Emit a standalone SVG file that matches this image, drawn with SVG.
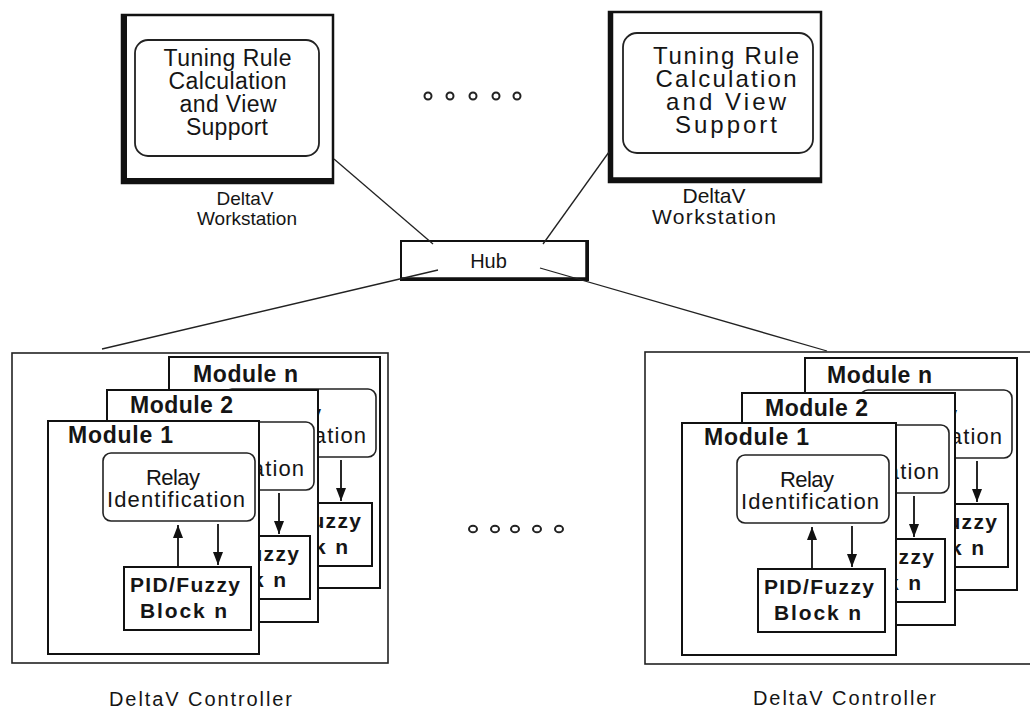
<svg xmlns="http://www.w3.org/2000/svg" width="1030" height="710" viewBox="0 0 1030 710">
<defs>
<style>
.t{font-family:"Liberation Sans",Arial,sans-serif;fill:#151515}
.b{font-weight:bold}
.ws{fill:#fff;stroke:#111;stroke-width:2.5}
.thick{fill:none;stroke:#111}
.inner{fill:#fff;stroke:#222;stroke-width:1.8}
.outer{fill:#fff;stroke:#222;stroke-width:1.6}
.frame{fill:#fff;stroke:#111;stroke-width:2}
.rbox{fill:#fff;stroke:#222;stroke-width:1.6}
.pbox{fill:#fff;stroke:#111;stroke-width:2}
.arr{stroke:#111;stroke-width:1.8;fill:none;marker-end:url(#ah)}
.conn{stroke:#222;stroke-width:1.3;fill:none}
.dot{fill:none;stroke:#222;stroke-width:2}
.mlab{font-size:23px;font-weight:bold}
.rel{font-size:22px}
.pid{font-size:21px;font-weight:bold}
</style>
<marker id="ah" markerUnits="userSpaceOnUse" markerWidth="14" markerHeight="10" refX="13" refY="5" orient="auto" viewBox="0 0 14 10">
<path d="M0,0 L13,5 L0,10 z" fill="#111"/>
</marker>
</defs>
<rect width="1030" height="710" fill="#fff"/>

<g id="ws-left">
<rect class="ws" x="122" y="15" width="211" height="168"/>
<path class="thick" stroke-width="5" d="M124.5,14 V180.5 H334"/>
<rect class="inner" x="135" y="40" width="184" height="116" rx="13"/>
<g class="t" font-size="23" text-anchor="middle">
<text x="227.5" y="66" textLength="128" lengthAdjust="spacing">Tuning Rule</text>
<text x="227.5" y="89" textLength="118" lengthAdjust="spacing">Calculation</text>
<text x="228" y="112" textLength="97" lengthAdjust="spacing">and View</text>
<text x="227" y="135" textLength="82" lengthAdjust="spacing">Support</text>
</g>
<g class="t" font-size="19" text-anchor="middle">
<text x="245" y="205">DeltaV</text>
<text x="247" y="225">Workstation</text>
</g>
</g>

<g id="ws-right">
<rect class="ws" x="609" y="12" width="212" height="170"/>
<path class="thick" stroke-width="4.5" d="M611,11 V179.5 H822"/>
<rect class="inner" x="623" y="33" width="190" height="120" rx="14"/>
<g class="t" font-size="24" text-anchor="middle">
<text x="726" y="64" textLength="146" lengthAdjust="spacing">Tuning Rule</text>
<text x="726" y="87" textLength="141" lengthAdjust="spacing">Calculation</text>
<text x="726" y="110" textLength="120" lengthAdjust="spacing">and View</text>
<text x="726" y="133" textLength="102" lengthAdjust="spacing">Support</text>
</g>
<g class="t" font-size="21" text-anchor="middle">
<text x="714" y="203">DeltaV</text>
<text x="714" y="224" textLength="124" lengthAdjust="spacing">Workstation</text>
</g>
</g>

<g id="hub">
<rect x="401" y="241" width="187" height="39" fill="#fff" stroke="#111" stroke-width="2"/>
<path class="thick" stroke-width="3.5" d="M401,279 H587 V241"/>
<text class="t" x="488.5" y="268" font-size="20" text-anchor="middle">Hub</text>
</g>

<g id="dots-top">
<circle class="dot" cx="428" cy="96" r="3.5"/>
<circle class="dot" cx="450" cy="96" r="3.5"/>
<circle class="dot" cx="473" cy="96" r="3.5"/>
<circle class="dot" cx="496" cy="96" r="3.5"/>
<circle class="dot" cx="517" cy="96" r="3.5"/>
</g>
<g id="dots-bottom">
<ellipse class="dot" cx="473" cy="529" rx="4" ry="3.3"/>
<ellipse class="dot" cx="495" cy="529" rx="4" ry="3.3"/>
<ellipse class="dot" cx="515" cy="529" rx="4" ry="3.3"/>
<ellipse class="dot" cx="537" cy="529" rx="4" ry="3.3"/>
<ellipse class="dot" cx="559" cy="529" rx="4" ry="3.3"/>
</g>

<g id="controller-left">
<rect class="outer" x="12" y="353" width="376" height="310"/>
<g id="left-module-n" transform="translate(169,357)">
<rect class="frame" x="0" y="0" width="211" height="231"/>
<text class="t mlab" x="24" y="25" textLength="105" lengthAdjust="spacing">Module n</text>
<rect class="rbox" x="55" y="32" width="152" height="68" rx="8"/>
<text class="t rel" x="125" y="64" text-anchor="middle" textLength="54" lengthAdjust="spacing">Relay</text>
<text class="t rel" x="128" y="86" text-anchor="middle" textLength="138" lengthAdjust="spacing">Identification</text>
<rect class="pbox" x="76" y="146" width="127" height="63"/>
<text class="t pid" x="137" y="171" text-anchor="middle" textLength="110" lengthAdjust="spacing">PID/Fuzzy</text>
<text class="t pid" x="135.5" y="197" text-anchor="middle" textLength="87" lengthAdjust="spacing">Block n</text>
<line class="arr" x1="130" y1="146" x2="130" y2="104"/>
<line class="arr" x1="172" y1="103" x2="172" y2="144"/>
</g>
<g id="left-module-2" transform="translate(107,390)">
<rect class="frame" x="0" y="0" width="211" height="232"/>
<text class="t mlab" x="23" y="23" textLength="103" lengthAdjust="spacing">Module 2</text>
<rect class="rbox" x="55" y="32" width="152" height="68" rx="8"/>
<text class="t rel" x="125" y="64" text-anchor="middle" textLength="54" lengthAdjust="spacing">Relay</text>
<text class="t rel" x="128" y="86" text-anchor="middle" textLength="138" lengthAdjust="spacing">Identification</text>
<rect class="pbox" x="76" y="146" width="127" height="63"/>
<text class="t pid" x="137" y="171" text-anchor="middle" textLength="110" lengthAdjust="spacing">PID/Fuzzy</text>
<text class="t pid" x="135.5" y="197" text-anchor="middle" textLength="87" lengthAdjust="spacing">Block n</text>
<line class="arr" x1="130" y1="146" x2="130" y2="104"/>
<line class="arr" x1="172" y1="103" x2="172" y2="144"/>
</g>
<g id="left-module-1" transform="translate(48,421)">
<rect class="frame" x="0" y="0" width="211" height="233"/>
<text class="t mlab" x="20" y="22" textLength="105" lengthAdjust="spacing">Module 1</text>
<rect class="rbox" x="55" y="32" width="152" height="68" rx="8"/>
<text class="t rel" x="125" y="64" text-anchor="middle" textLength="54" lengthAdjust="spacing">Relay</text>
<text class="t rel" x="128" y="86" text-anchor="middle" textLength="138" lengthAdjust="spacing">Identification</text>
<rect class="pbox" x="76" y="146" width="127" height="63"/>
<text class="t pid" x="137" y="171" text-anchor="middle" textLength="110" lengthAdjust="spacing">PID/Fuzzy</text>
<text class="t pid" x="135.5" y="197" text-anchor="middle" textLength="87" lengthAdjust="spacing">Block n</text>
<line class="arr" x1="130" y1="146" x2="130" y2="104"/>
<line class="arr" x1="170" y1="103" x2="170" y2="144"/>
</g>
<text class="t" x="200.5" y="706" font-size="20" text-anchor="middle" textLength="183" lengthAdjust="spacing">DeltaV Controller</text>
</g>

<g id="controller-right">
<rect class="outer" x="645" y="352" width="400" height="312"/>
<g id="right-module-n" transform="translate(805,358)">
<rect class="frame" x="0" y="0" width="212" height="232"/>
<text class="t mlab" x="22" y="25" textLength="105" lengthAdjust="spacing">Module n</text>
<rect class="rbox" x="55" y="32" width="152" height="68" rx="8"/>
<text class="t rel" x="125" y="64" text-anchor="middle" textLength="54" lengthAdjust="spacing">Relay</text>
<text class="t rel" x="128" y="86" text-anchor="middle" textLength="138" lengthAdjust="spacing">Identification</text>
<rect class="pbox" x="76" y="146" width="127" height="63"/>
<text class="t pid" x="137" y="171" text-anchor="middle" textLength="110" lengthAdjust="spacing">PID/Fuzzy</text>
<text class="t pid" x="135.5" y="197" text-anchor="middle" textLength="87" lengthAdjust="spacing">Block n</text>
<line class="arr" x1="130" y1="146" x2="130" y2="104"/>
<line class="arr" x1="172" y1="103" x2="172" y2="144"/>
</g>
<g id="right-module-2" transform="translate(742,393)">
<rect class="frame" x="0" y="0" width="213" height="232"/>
<text class="t mlab" x="23" y="23" textLength="103" lengthAdjust="spacing">Module 2</text>
<rect class="rbox" x="55" y="32" width="152" height="68" rx="8"/>
<text class="t rel" x="125" y="64" text-anchor="middle" textLength="54" lengthAdjust="spacing">Relay</text>
<text class="t rel" x="128" y="86" text-anchor="middle" textLength="138" lengthAdjust="spacing">Identification</text>
<rect class="pbox" x="76" y="146" width="127" height="63"/>
<text class="t pid" x="137" y="171" text-anchor="middle" textLength="110" lengthAdjust="spacing">PID/Fuzzy</text>
<text class="t pid" x="135.5" y="197" text-anchor="middle" textLength="87" lengthAdjust="spacing">Block n</text>
<line class="arr" x1="130" y1="146" x2="130" y2="104"/>
<line class="arr" x1="172" y1="103" x2="172" y2="144"/>
</g>
<g id="right-module-1" transform="translate(682,423)">
<rect class="frame" x="0" y="0" width="214" height="232"/>
<text class="t mlab" x="22" y="22" textLength="105" lengthAdjust="spacing">Module 1</text>
<rect class="rbox" x="55" y="32" width="152" height="68" rx="8"/>
<text class="t rel" x="125" y="64" text-anchor="middle" textLength="54" lengthAdjust="spacing">Relay</text>
<text class="t rel" x="128" y="86" text-anchor="middle" textLength="138" lengthAdjust="spacing">Identification</text>
<rect class="pbox" x="76" y="146" width="127" height="63"/>
<text class="t pid" x="137" y="171" text-anchor="middle" textLength="110" lengthAdjust="spacing">PID/Fuzzy</text>
<text class="t pid" x="135.5" y="197" text-anchor="middle" textLength="87" lengthAdjust="spacing">Block n</text>
<line class="arr" x1="130" y1="146" x2="130" y2="104"/>
<line class="arr" x1="170" y1="103" x2="170" y2="144"/>
</g>
<text class="t" x="844.5" y="705" font-size="20" text-anchor="middle" textLength="183" lengthAdjust="spacing">DeltaV Controller</text>
</g>

<g id="connectors">
<line class="conn" x1="334" y1="159" x2="433" y2="244"/>
<line class="conn" x1="609" y1="152" x2="543" y2="244"/>
<line class="conn" x1="438" y1="270" x2="102" y2="349"/>
<line class="conn" x1="540" y1="268" x2="827" y2="351"/>
</g>
</svg>
